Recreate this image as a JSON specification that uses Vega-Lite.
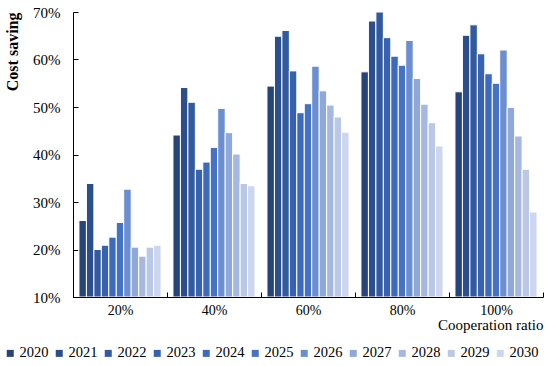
{
  "$schema": "https://vega.github.io/schema/vega-lite/v6.json",
  "width": 470,
  "height": 285,
  "autosize": {"type": "none"},
  "padding": {"left": 73, "top": 12, "right": 7, "bottom": 69},
  "background": "white",
  "data": {
    "values": [
      {"ratio": "20%", "year": "2020", "saving": 26.1},
      {"ratio": "20%", "year": "2021", "saving": 33.9},
      {"ratio": "20%", "year": "2022", "saving": 20.0},
      {"ratio": "20%", "year": "2023", "saving": 20.9},
      {"ratio": "20%", "year": "2024", "saving": 22.6},
      {"ratio": "20%", "year": "2025", "saving": 25.7},
      {"ratio": "20%", "year": "2026", "saving": 32.7},
      {"ratio": "20%", "year": "2027", "saving": 20.5},
      {"ratio": "20%", "year": "2028", "saving": 18.6},
      {"ratio": "20%", "year": "2029", "saving": 20.5},
      {"ratio": "20%", "year": "2030", "saving": 20.9},
      {"ratio": "40%", "year": "2020", "saving": 44.1},
      {"ratio": "40%", "year": "2021", "saving": 54.1},
      {"ratio": "40%", "year": "2022", "saving": 51.0},
      {"ratio": "40%", "year": "2023", "saving": 36.9},
      {"ratio": "40%", "year": "2024", "saving": 38.4},
      {"ratio": "40%", "year": "2025", "saving": 41.5},
      {"ratio": "40%", "year": "2026", "saving": 49.7},
      {"ratio": "40%", "year": "2027", "saving": 44.6},
      {"ratio": "40%", "year": "2028", "saving": 40.1},
      {"ratio": "40%", "year": "2029", "saving": 33.9},
      {"ratio": "40%", "year": "2030", "saving": 33.4},
      {"ratio": "60%", "year": "2020", "saving": 54.4},
      {"ratio": "60%", "year": "2021", "saving": 64.9},
      {"ratio": "60%", "year": "2022", "saving": 66.1},
      {"ratio": "60%", "year": "2023", "saving": 57.6},
      {"ratio": "60%", "year": "2024", "saving": 48.8},
      {"ratio": "60%", "year": "2025", "saving": 50.7},
      {"ratio": "60%", "year": "2026", "saving": 58.6},
      {"ratio": "60%", "year": "2027", "saving": 53.4},
      {"ratio": "60%", "year": "2028", "saving": 50.4},
      {"ratio": "60%", "year": "2029", "saving": 47.9},
      {"ratio": "60%", "year": "2030", "saving": 44.7},
      {"ratio": "80%", "year": "2020", "saving": 57.4},
      {"ratio": "80%", "year": "2021", "saving": 68.1},
      {"ratio": "80%", "year": "2022", "saving": 70.0},
      {"ratio": "80%", "year": "2023", "saving": 64.6},
      {"ratio": "80%", "year": "2024", "saving": 60.7},
      {"ratio": "80%", "year": "2025", "saving": 58.8},
      {"ratio": "80%", "year": "2026", "saving": 64.0},
      {"ratio": "80%", "year": "2027", "saving": 56.0},
      {"ratio": "80%", "year": "2028", "saving": 50.6},
      {"ratio": "80%", "year": "2029", "saving": 46.7},
      {"ratio": "80%", "year": "2030", "saving": 41.8},
      {"ratio": "100%", "year": "2020", "saving": 53.2},
      {"ratio": "100%", "year": "2021", "saving": 65.1},
      {"ratio": "100%", "year": "2022", "saving": 67.3},
      {"ratio": "100%", "year": "2023", "saving": 61.2},
      {"ratio": "100%", "year": "2024", "saving": 57.0},
      {"ratio": "100%", "year": "2025", "saving": 55.0},
      {"ratio": "100%", "year": "2026", "saving": 62.0},
      {"ratio": "100%", "year": "2027", "saving": 49.9},
      {"ratio": "100%", "year": "2028", "saving": 43.9},
      {"ratio": "100%", "year": "2029", "saving": 36.9},
      {"ratio": "100%", "year": "2030", "saving": 27.9}
    ]
  },
  "mark": {"type": "bar", "stroke": "white", "strokeWidth": 1, "clip": true},
  "encoding": {
    "x": {
      "field": "ratio",
      "type": "nominal",
      "sort": ["20%", "40%", "60%", "80%", "100%"],
      "scale": {"paddingInner": 0, "paddingOuter": 0},
      "axis": {
        "title": "Cooperation ratio",
        "titleAnchor": "end",
        "titleAlign": "right",
        "titleFont": "Liberation Serif, Times New Roman, serif",
        "titleFontSize": 15,
        "titleFontWeight": "normal",
        "titleColor": "black",
        "titlePadding": 0,
        "labelAngle": 0,
        "labelFont": "Liberation Serif, Times New Roman, serif",
        "labelFontSize": 14,
        "labelColor": "black",
        "labelPadding": 11,
        "tickBand": "extent",
        "tickColor": "black",
        "tickSize": -5,
        "domainColor": "black",
        "grid": false
      }
    },
    "xOffset": {
      "field": "year",
      "type": "nominal",
      "scale": {"paddingInner": 0, "paddingOuter": 0.8}
    },
    "y": {
      "field": "saving",
      "type": "quantitative",
      "stack": null,
      "scale": {"domain": [10, 70], "nice": false, "zero": false},
      "axis": {
        "title": "Cost saving",
        "titleAnchor": "end",
        "titleFont": "Liberation Serif, Times New Roman, serif",
        "titleFontSize": 16,
        "titleFontWeight": "bold",
        "titleColor": "black",
        "titlePadding": 12,
        "values": [10, 20, 30, 40, 50, 60, 70],
        "labelExpr": "datum.value + '%'",
        "labelFont": "Liberation Serif, Times New Roman, serif",
        "labelFontSize": 15,
        "labelColor": "black",
        "labelPadding": 18,
        "tickColor": "black",
        "tickSize": -5,
        "domainColor": "black",
        "grid": false
      }
    },
    "y2": {"datum": 10},
    "color": {
      "field": "year",
      "type": "nominal",
      "scale": {
        "domain": ["2020", "2021", "2022", "2023", "2024", "2025", "2026", "2027", "2028", "2029", "2030"],
        "range": ["#264478", "#2b4f8e", "#325aa0", "#3862b0", "#3d6abd", "#4472c4", "#6a8ecf", "#8ea8da", "#a6b8e0", "#bac8e7", "#ccd6ee"]
      },
      "legend": {
        "title": null,
        "orient": "none",
        "legendX": -70,
        "legendY": 334,
        "direction": "horizontal",
        "columns": 11,
        "symbolType": "square",
        "symbolSize": 49,
        "symbolStrokeWidth": 0,
        "labelFont": "Liberation Serif, Times New Roman, serif",
        "labelFontSize": 14.5,
        "labelColor": "black",
        "labelOffset": 2,
        "columnPadding": 3
      }
    }
  },
  "config": {
    "view": {"stroke": null},
    "axis": {"labelFlush": false}
  }
}
